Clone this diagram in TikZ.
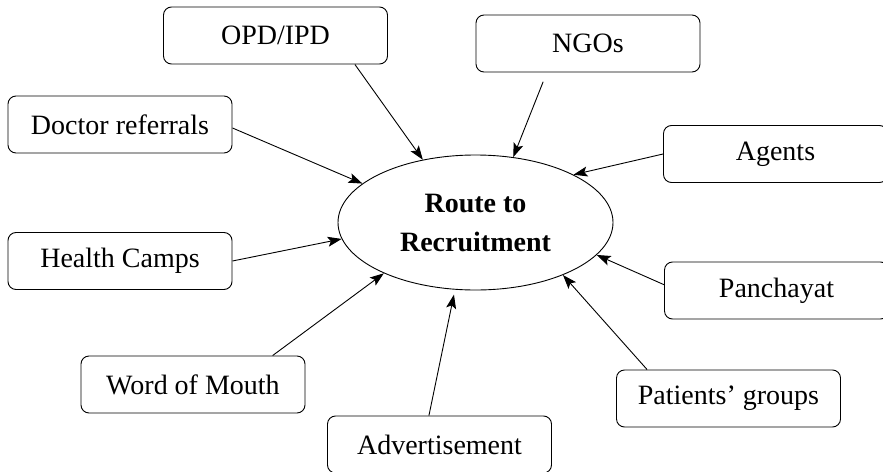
\documentclass[tikz,border=0pt]{standalone}
\usepackage{fontspec}
\setmainfont{Liberation Serif}
\usetikzlibrary{shapes.geometric,arrows.meta,calc}
\begin{document}
\begin{tikzpicture}[x=1pt,y=-1pt,
  srcbox/.style={draw,line width=0.9pt,rounded corners=8pt,minimum width=224pt,minimum height=57pt,inner sep=0pt,font=\fontsize{28}{32}\selectfont},
  hub/.style={draw,line width=0.9pt,ellipse,minimum width=275pt,minimum height=135pt,inner sep=0pt,align=center,font=\fontsize{28}{39}\selectfont\bfseries},
  arr/.style={line width=0.9pt,-{Stealth[length=14pt,width=10pt,inset=3pt]}}]
\useasboundingbox (0,0) rectangle (883,471);
\node[hub] (route) at (475.5,222.5) {Route to\\Recruitment};
\node[srcbox] (opd) at (275.5,35.5) {OPD/IPD};
\node[srcbox] (ngo) at (588,43.5) {NGOs};
\node[srcbox] (doc) at (120,124.5) {Doctor referrals};
\node[srcbox] (agt) at (775.5,154) {Agents};
\node[srcbox] (hc) at (120,261) {Health Camps};
\node[srcbox] (pan) at (776.5,290.5) {Panchayat};
\node[srcbox] (wom) at (193,384.5) {Word of Mouth};
\node[srcbox] (pg) at (728.5,398.5) {Patients' groups};
\node[srcbox] (adv) at (439.5,444.5) {Advertisement};
\draw[arr] ($(opd.south west)!0.853!(opd.south east)$) -- (route.130);
\draw[arr,shorten <=10pt] ($(ngo.south west)!0.317!(ngo.south east)$) -- (route.60);
\draw[arr] ($(doc.north east)!0.56!(doc.south east)$) -- (route.161);
\draw[arr] (hc.east) -- (route.187.5);
\draw[arr] ($(wom.north west)!0.854!(wom.north east)$) -- (route.209.6);
\draw[arr,shorten >=5pt] ($(adv.north west)!0.453!(adv.north east)$) -- (route.253.2);
\draw[arr] ($(pg.north west)!0.138!(pg.north east)$) -- (route.-31);
\draw[arr] ($(pan.north west)!0.4!(pan.south west)$) -- (route.-15.5);
\draw[arr] (agt.west) -- (route.26);
\end{tikzpicture}
\end{document}
